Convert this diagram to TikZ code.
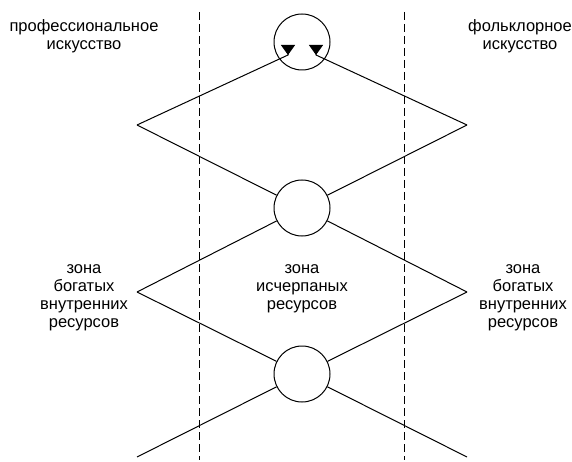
\documentclass[tikz,border=0pt]{standalone}
\usepackage{fontspec}
\setmainfont{Liberation Sans}
\usetikzlibrary{arrows.meta}

\begin{document}
\begin{tikzpicture}[x=1pt, y=-1pt,
	line/.style={draw, line width=1pt},
	sep/.style={draw, line width=0.9pt, dash pattern=on 8pt off 4pt},
	knot/.style={circle, draw, line width=1pt, minimum size=56pt, inner sep=0pt},
	lbl/.style={align=center, inner sep=0pt, font=\fontsize{16.5}{18}\selectfont},
	tip/.style={-{Triangle[reversed, length=10pt, width=14pt]}}]
\useasboundingbox (0,0) rectangle (572,462);
\node[knot] (top) at (302,42) {};
\node[knot] (mid) at (302,208) {};
\node[knot] (bot) at (302,374) {};
\coordinate (L1) at (137,125);
\coordinate (R1) at (467,125);
\coordinate (L2) at (137,292);
\coordinate (R2) at (467,292);
\coordinate (L3) at (137,457);
\coordinate (R3) at (467,457);
\coordinate (pL) at (288,55);
\coordinate (pR) at (316,55);
\coordinate (s1a) at (199,12);
\coordinate (s1b) at (199,460);
\coordinate (s2a) at (404,12);
\coordinate (s2b) at (404,460);
\node[lbl] (prof) at (84,36) {профессиональное\\искусство};
\node[lbl] (folk) at (520,36) {фольклорное\\искусство};
\node[lbl] (richL) at (84,298) {зона\\богатых\\внутренних\\ресурсов};
\node[lbl] (poor) at (302,289) {зона\\исчерпаных\\ресурсов};
\node[lbl] (richR) at (523,298) {зона\\богатых\\внутренних\\ресурсов};
\path[sep] (s1a) -- (s1b) (s2a) -- (s2b);
\draw[line, tip] (L1) -- (pL) -- ++(0,-10);
\draw[line, tip] (R1) -- (pR) -- ++(0,-10);
\path[line]
(L1) edge (mid)
(R1) edge (mid)
(mid) edge (L2)
(mid) edge (R2)
(L2) edge (bot)
(R2) edge (bot)
(bot) edge (L3)
(bot) edge (R3)
;
\end{tikzpicture}
\end{document}
